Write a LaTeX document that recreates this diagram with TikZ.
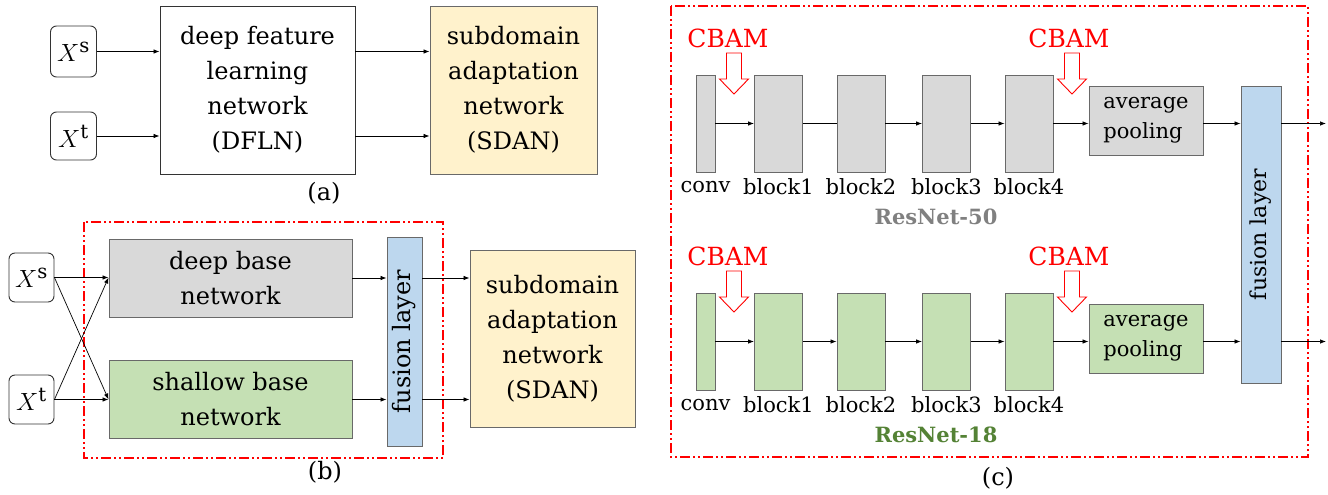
\documentclass[tikz,border=0pt]{standalone}
\usepackage{fontspec}
\setmainfont{DejaVu Serif}
\usetikzlibrary{arrows.meta,positioning}
\definecolor{boxgray}{RGB}{217,217,217}
\definecolor{boxgreen}{RGB}{197,224,180}
\definecolor{boxblue}{RGB}{189,215,238}
\definecolor{boxyellow}{RGB}{255,242,204}
\definecolor{edgegray}{RGB}{105,105,105}
\definecolor{resgray}{RGB}{128,128,128}
\definecolor{resgreen}{RGB}{84,130,53}
\definecolor{cbamred}{RGB}{255,0,0}
\tikzset{
  flow/.style={-{Latex[length=6pt,width=4.5pt]},line width=0.7pt},
  box/.style={draw=edgegray,line width=0.9pt,inner sep=0pt,align=center,
              font=\fontsize{24}{35}\selectfont},
  inbox/.style={box,draw=black!80,rounded corners=6pt,fill=white,
                minimum width=46pt,font=\fontsize{28}{30}\selectfont},
  whitebox/.style={box,draw=black!80,fill=white},
  sdanbox/.style={box,fill=boxyellow},
  fusebox/.style={box,fill=boxblue},
  frame/.style={draw=cbamred,line width=1.3pt,
                dash pattern=on 10pt off 3pt on 2pt off 3pt on 2pt off 3pt},
  cbamarrow/.style={draw=cbamred,fill=white,line width=0.9pt},
  cbamlabel/.style={text=cbamred,font=\fontsize{25}{28}\selectfont},
  blocklabel/.style={font=\fontsize{21}{25}\selectfont},
  sublabel/.style={font=\fontsize{24}{28}\selectfont}
}

\begin{document}
\begin{tikzpicture}[x=1pt,y=-1pt]
  \useasboundingbox (0,0) rectangle (1328,495);

  % (a)
  \node[inbox,minimum height=51pt] (xs-a) at (73.5,51.5) {$X^{\mathrm{s}}$};
  \node[inbox,minimum height=48pt] (xt-a) at (73.5,136) {$X^{\mathrm{t}}$};
  \node[whitebox,minimum width=195pt,minimum height=168pt] (dfln) at (257.5,90)
    {deep feature\\learning\\network\\(DFLN)};
  \node[sdanbox,minimum width=167pt,minimum height=168pt] (sdan-a) at (513.5,90)
    {subdomain\\adaptation\\network\\(SDAN)};
  \draw[flow] (xs-a.east) -- (dfln.west |- xs-a.east);
  \draw[flow] (xt-a.east) -- (dfln.west |- xt-a.east);
  \draw[flow] (dfln.east |- xs-a.east) -- (sdan-a.west |- xs-a.east);
  \draw[flow] (dfln.east |- xt-a.east) -- (sdan-a.west |- xt-a.east);
  \node[sublabel] (lab-a) at (324,193) {(a)};

  % (b)
  \draw[frame] (84,222) rectangle (443,458);
  \node[inbox,minimum height=49pt,minimum width=45pt] (xs-b) at (31.5,277.5) {$X^{\mathrm{s}}$};
  \node[inbox,minimum height=49pt,minimum width=45pt] (xt-b) at (31.5,399.5) {$X^{\mathrm{t}}$};
  \node[box,fill=boxgray,minimum width=243pt,minimum height=78pt] (deep) at (230.5,278)
    {deep base\\network};
  \node[box,fill=boxgreen,minimum width=243pt,minimum height=78pt] (shallow) at (230.5,399.5)
    {shallow base\\network};
  % rotated: north = left side, south = right side
  \node[fusebox,rotate=90,minimum width=209pt,minimum height=35pt] (fuse-b) at (404.5,341.5)
    {fusion layer};
  \node[sdanbox,minimum width=165pt,minimum height=177pt] (sdan-b) at (552.5,338.5)
    {subdomain\\adaptation\\network\\(SDAN)};
  \draw[flow] (xs-b.east) -- (deep.west |- xs-b.east);
  \draw[flow] (xs-b.east) -- (shallow.west |- xt-b.east);
  \draw[flow] (xt-b.east) -- (deep.west |- xs-b.east);
  \draw[flow] (xt-b.east) -- (shallow.west |- xt-b.east);
  \draw[flow] (deep.east) -- (fuse-b.north |- deep.east);
  \draw[flow] (shallow.east) -- (fuse-b.north |- shallow.east);
  \draw[flow] (fuse-b.south |- deep.east) -- (sdan-b.west |- deep.east);
  \draw[flow] (fuse-b.south |- shallow.east) -- (sdan-b.west |- shallow.east);
  \node[sublabel] (lab-b) at (325,472) {(b)};

  % (c)
  \draw[frame] (671,6) rectangle (1308,457);
  \node[fusebox,rotate=90,minimum width=297pt,minimum height=40pt,
        font=\fontsize{22}{26}\selectfont] (fuse-c) at (1261,234.5) {fusion layer};
  \foreach \r/\yy/\fc/\tc in {50/123.5/boxgray/resgray,18/341.5/boxgreen/resgreen}{
    \node[box,fill=\fc,minimum width=19pt,minimum height=97pt] (conv\r) at (705.5,\yy) {};
    \foreach \i/\xx in {1/778.5,2/861,3/946.5,4/1029}
      \node[box,fill=\fc,minimum width=48pt,minimum height=97pt] (blk\r-\i) at (\xx,\yy) {};
    \node[box,fill=\fc,minimum width=114pt,minimum height=69pt,align=left,
          font=\fontsize{21}{30}\selectfont] (avg\r) at (1146,\yy-3) {average\\pooling};
    \coordinate (out\r) at (1326,\yy);
    \draw[flow] (conv\r) -- (blk\r-1);
    \draw[flow] (blk\r-2) -- (blk\r-3);
    \draw[flow] (blk\r-3) -- (blk\r-4);
    \draw[flow] (blk\r-4) -- (avg\r.west |- blk\r-4);
    \draw[flow] (avg\r.east |- blk\r-4) -- (fuse-c.north |- blk\r-4);
    \draw[flow] (fuse-c.south |- blk\r-4) -- (out\r);
    % labels under the blocks
    \node[blocklabel] (lconv\r) at (conv\r.south |- 0,\yy+63.5) {conv};
    \foreach \i in {1,...,4}
      \node[blocklabel] (lblk\r-\i) at (blk\r-\i.south |- 0,\yy+63.5) {block\i};
    \node[font=\fontsize{21}{25}\selectfont\bfseries,text=\tc] (res\r) at (936,\yy+93.5) {ResNet-\r};
    % CBAM
    \foreach \cx/\lx/\k in {734/728/1,1072/1069/2}{
      \node[cbamlabel] (cbam\r-\k) at (\lx,\yy-85.5) {CBAM};
      \draw[cbamarrow] (\cx-7.5,\yy-70.5) -- (\cx+7.5,\yy-70.5) -- (\cx+7.5,\yy-44.5)
        -- (\cx+14.5,\yy-44.5) -- (\cx,\yy-29.5) -- (\cx-14.5,\yy-44.5)
        -- (\cx-7.5,\yy-44.5) -- cycle;
    }
  }
  \draw[line width=0.7pt] (blk50-1) -- (blk50-2);
  \draw[flow] (blk18-1) -- (blk18-2);
  \node[sublabel] (lab-c) at (998,478) {(c)};
\end{tikzpicture}
\end{document}
